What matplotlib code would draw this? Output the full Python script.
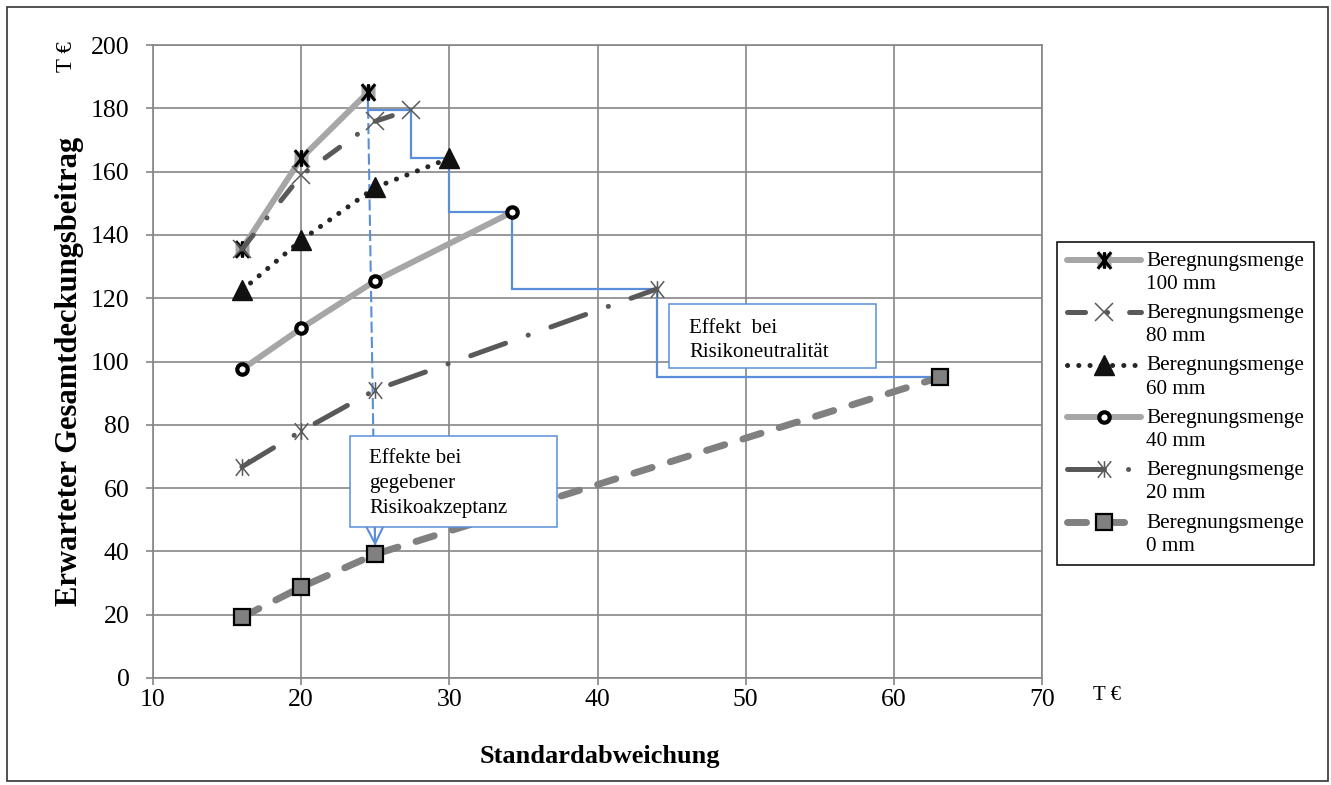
import matplotlib
matplotlib.use("Agg")
import matplotlib.pyplot as plt
from matplotlib.path import Path
from matplotlib.patches import Rectangle
from matplotlib.lines import Line2D
from matplotlib.legend_handler import HandlerTuple, HandlerLine2D

plt.rcParams['font.family'] = ['Liberation Serif', 'DejaVu Serif']
plt.rcParams['lines.scale_dashes'] = False

# ---------------- data ----------------
labels = ['Beregnungsmenge\n100 mm', 'Beregnungsmenge\n80 mm', 'Beregnungsmenge\n60 mm',
          'Beregnungsmenge\n40 mm', 'Beregnungsmenge\n20 mm', 'Beregnungsmenge\n0 mm']
sd_100 = [16, 20, 24.5]
db_100 = [135.5, 164.2, 185.0]
sd_80 = [16, 20, 25, 27.4]
db_80 = [135.5, 158.8, 175.9, 179.6]
sd_60 = [16, 20, 25, 30]
db_60 = [122.5, 138.3, 155.0, 164.2]
sd_40 = [16, 20, 25, 34.2]
db_40 = [97.5, 110.5, 125.5, 147.1]
sd_20 = [16, 20, 25, 44]
db_20 = [66.7, 78.0, 91.0, 122.9]
sd_0 = [16, 20, 25, 63.1]
db_0 = [19.2, 28.7, 39.1, 95.0]
x_ticks = [10, 20, 30, 40, 50, 60, 70]
y_ticks = [0, 20, 40, 60, 80, 100, 120, 140, 160, 180, 200]
xlabel = 'Standardabweichung'
ylabel = 'Erwarteter Gesamtdeckungsbeitrag'
unit = 'T €'
box1_text = 'Effekt  bei\nRisikoneutralität'
box2_text = 'Effekte bei\ngegebener\nRisikoakzeptanz'

# ---------------- figure ----------------
W, H = 1331, 785
fig = plt.figure(figsize=(W / 100, H / 100), dpi=100)
ax = fig.add_axes([153 / W, 1 - 678 / H, 889 / W, 633 / H])

grid_c = '#868686'
blue = '#5A8ED8'

star = Path([(-0.8, -1), (0.8, 1), (-0.8, 1), (0.8, -1), (0, -1), (0, 1)],
            [Path.MOVETO, Path.LINETO, Path.MOVETO, Path.LINETO, Path.MOVETO, Path.LINETO])

handles = []
# 100 mm
l100a, = ax.plot(sd_100, db_100, color='#A6A6A6', lw=4.3, marker='s', ms=10,
                 mfc='#A6A6A6', mec='none', solid_capstyle='round', zorder=3)
l100b, = ax.plot(sd_100, db_100, ls='none', marker=star, ms=12, mec='black',
                 mew=2.2, zorder=3.1)
handles.append((l100a, l100b))
# 80 mm
l80, = ax.plot(sd_80, db_80, color='#595959', lw=3.6, ls=(0, (13, 15.8, 0.1, 15.8)),
               dash_capstyle='round', marker='x', ms=13, mec='#595959', mew=1.1, zorder=3.2)
handles.append(l80)
# 60 mm
l60, = ax.plot(sd_60, db_60, color='#262626', lw=3.6, ls=(0, (0.1, 8.0)),
               dash_capstyle='round', marker='^', ms=14, mfc='#111111', mec='#111111',
               zorder=3.3)
handles.append(l60)
# 40 mm
l40, = ax.plot(sd_40, db_40, color='#A6A6A6', lw=4.3, solid_capstyle='round',
               marker='o', ms=7.5, mfc='white', mec='black', mew=3.0, zorder=3.4)
handles.append(l40)
# 20 mm
l20, = ax.plot(sd_20, db_20, color='#595959', lw=3.6, ls=(0, (26.6, 17.3, 0.1, 17.3)),
               dash_capstyle='round', marker=star, ms=12, mec='#595959', mew=1.1,
               zorder=3.5)
handles.append(l20)
# 0 mm
l0, = ax.plot(sd_0, db_0, color='#808080', lw=5.0, ls=(0, (13.7, 13.7)),
              dash_capstyle='round', marker='s', ms=12, mfc='#808080', mec='black',
              mew=1.6, zorder=3.6)
handles.append(l0)

# ---- efficient-frontier step line (built from the last point of each series) ----
ends = [(sd_100[-1], db_100[-1]), (sd_80[-1], db_80[-1]), (sd_60[-1], db_60[-1]),
        (sd_40[-1], db_40[-1]), (sd_20[-1], db_20[-1]), (sd_0[-1], db_0[-1])]
px, py = [ends[0][0]], [ends[0][1]]
for i in range(1, len(ends)):
    px += [ends[i - 1][0], ends[i][0]]
    py += [ends[i][1], ends[i][1]]
ax.plot(px, py, color=blue, lw=1.6, zorder=2.5, solid_joinstyle='miter')

# dashed arrow: from top of 100 mm down to 0 mm at sd=25
ax.plot([sd_100[-1], sd_0[2]], [db_100[-1], db_0[2]], color=blue, lw=1.5,
        ls=(0, (8, 3)), zorder=2.5)
ax.annotate('', xy=(sd_0[2], db_0[2]), xytext=(sd_0[2] - 0.03, 47.7),
            arrowprops=dict(arrowstyle='->', color=blue, lw=1.5, shrinkA=0, shrinkB=6,
                            mutation_scale=30), zorder=5)

# annotation boxes
ax.add_patch(Rectangle((44.82, 97.9), 58.79 - 44.82, 118.2 - 97.9, facecolor='white',
                       edgecolor=blue, lw=1.1, zorder=5))
ax.text(46.17, 106.6, box1_text, fontsize=15, va='center', ha='left', zorder=6,
        linespacing=1.4)
ax.add_patch(Rectangle((23.29, 47.7), 37.26 - 23.29, 76.5 - 47.7, facecolor='white',
                       edgecolor=blue, lw=1.1, zorder=5))
ax.text(24.57, 61.5, box2_text, fontsize=15, va='center', ha='left', zorder=6,
        linespacing=1.42)

# ---------------- axes styling ----------------
ax.set_xlim(10, 70)
ax.set_ylim(0, 200)
ax.set_xticks(x_ticks)
ax.set_yticks(y_ticks)
ax.set_axisbelow(True)
ax.grid(True, color=grid_c, lw=1.2)
for s in ax.spines.values():
    s.set_color(grid_c)
    s.set_linewidth(1.2)
ax.tick_params(axis='both', direction='out', length=5, width=1.2, color=grid_c,
               labelsize=18.5)
ax.tick_params(axis='y', pad=12)
ax.tick_params(axis='x', pad=3)

fig.text(600 / W, 1 - 757 / H, xlabel, fontsize=19, fontweight='bold',
         ha='center', va='center')
fig.text(70 / W, 1 - 371 / H, ylabel, fontsize=22, fontweight='bold',
         ha='center', va='center', rotation=90)
fig.text(1107 / W, 1 - 695 / H, unit, fontsize=15, ha='center', va='center')
fig.text(67 / W, 1 - 57 / H, unit, fontsize=16.5, ha='center', va='center', rotation=90)


# legend: marker/line sits on the first text line as in the original
class UpLine(HandlerLine2D):
    def __init__(self, dy, **kw):
        super().__init__(**kw)
        self.dy = dy

    def create_artists(self, legend, orig_handle, xdescent, ydescent, width, height,
                       fontsize, trans):
        return super().create_artists(legend, orig_handle, xdescent,
                                      ydescent - 2 * self.dy, width, height,
                                      fontsize, trans)


leg = fig.legend(handles, labels, loc='upper left',
                 bbox_to_anchor=(1057 / W, 1 - 242 / H), bbox_transform=fig.transFigure,
                 borderaxespad=0, fontsize=15.3, frameon=True, fancybox=False,
                 edgecolor='black', framealpha=1, handlelength=3.5, handletextpad=0.25,
                 labelspacing=0.48, borderpad=0.45, numpoints=1,
                 handler_map={Line2D: UpLine(9), tuple: HandlerTuple(ndivide=1, pad=0)})
leg.get_frame().set_linewidth(1.1)
for t in leg.get_texts():
    t.set_linespacing(1.3)

# outer border
fig.patches.append(Rectangle((7 / W, 4 / H), (1328 - 7) / W, (781 - 7) / H,
                             transform=fig.transFigure, fill=False, edgecolor='#333333',
                             lw=1.2, figure=fig))

fig.savefig('out.png', dpi=100)
